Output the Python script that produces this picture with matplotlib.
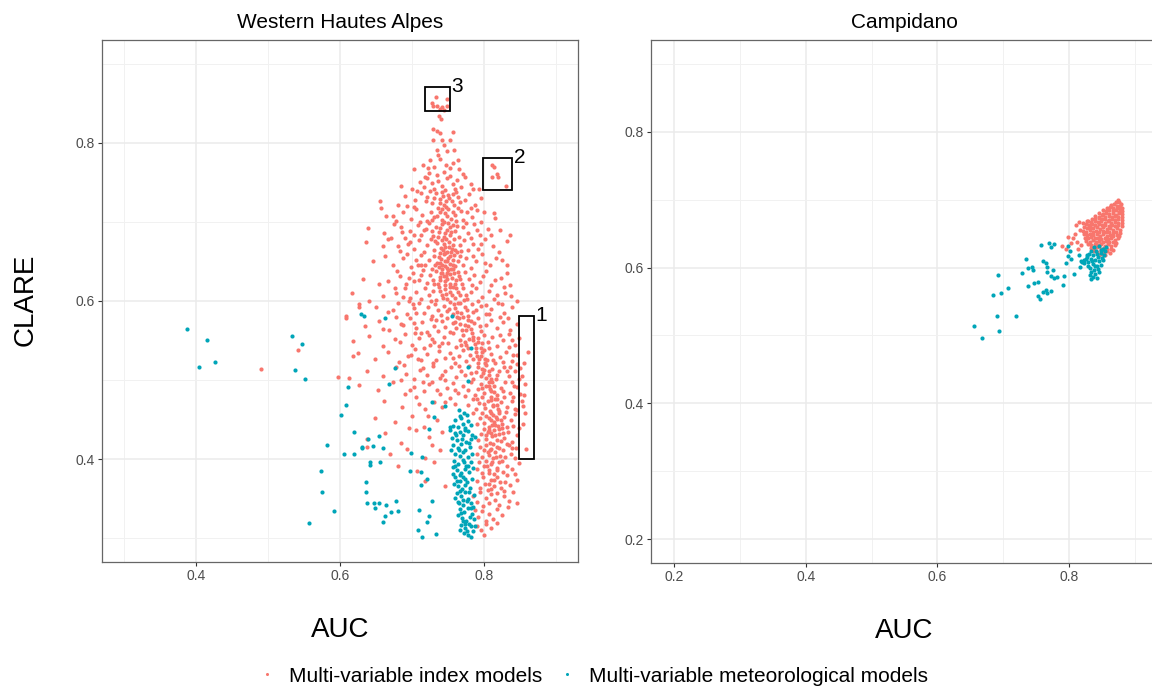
import matplotlib
matplotlib.use("Agg")
import matplotlib.pyplot as plt
from matplotlib.lines import Line2D
from matplotlib.patches import Rectangle
from matplotlib.ticker import MultipleLocator

plt.rcParams["font.family"] = ["Liberation Sans", "DejaVu Sans"]

RED = "#F8766D"
TEAL = "#00A5B8"
LABELS = ["Multi-variable index models", "Multi-variable meteorological models"]

# (AUC, CLARE) -- Western Hautes Alpes, index models
idx_west_top = [
    (0.733, 0.858), (0.748, 0.855), (0.727, 0.850), (0.729, 0.846), (0.735, 0.846),
    (0.741, 0.845), (0.748, 0.846), (0.738, 0.843), (0.744, 0.841), (0.737, 0.834),
    (0.740, 0.830), (0.729, 0.817), (0.735, 0.815), (0.739, 0.812), (0.756, 0.814),
    (0.729, 0.803), (0.741, 0.804), (0.753, 0.804), (0.758, 0.791), (0.734, 0.791),
    (0.748, 0.790), (0.744, 0.797), (0.725, 0.778), (0.739, 0.780), (0.763, 0.778),
    (0.753, 0.768), (0.703, 0.767), (0.722, 0.768), (0.765, 0.767), (0.744, 0.763),
    (0.734, 0.759), (0.715, 0.772), (0.757, 0.775), (0.730, 0.770),
    (0.811, 0.772), (0.814, 0.769), (0.818, 0.760), (0.819, 0.757), (0.811, 0.757),
    (0.830, 0.745), (0.793, 0.741),
    (0.685, 0.745), (0.711, 0.751), (0.720, 0.755), (0.728, 0.749), (0.736, 0.752),
    (0.742, 0.746), (0.749, 0.755), (0.756, 0.748), (0.762, 0.753), (0.768, 0.744),
    (0.774, 0.757), (0.700, 0.742), (0.731, 0.741), (0.745, 0.740), (0.760, 0.742),
    (0.716, 0.744), (0.752, 0.758), (0.782, 0.748),
    (0.655, 0.726), (0.690, 0.733), (0.704, 0.728), (0.712, 0.737), (0.721, 0.731),
    (0.727, 0.724), (0.733, 0.736), (0.739, 0.729), (0.744, 0.722), (0.750, 0.734),
    (0.755, 0.727), (0.761, 0.738), (0.766, 0.725), (0.773, 0.728), (0.779, 0.735),
    (0.787, 0.722), (0.742, 0.738), (0.725, 0.739), (0.758, 0.721), (0.680, 0.722),
    (0.795, 0.730),
    (0.657, 0.717), (0.664, 0.707), (0.673, 0.707), (0.688, 0.712), (0.698, 0.704),
    (0.706, 0.716), (0.714, 0.709), (0.720, 0.701), (0.726, 0.713), (0.731, 0.706),
    (0.736, 0.718), (0.741, 0.702), (0.745, 0.711), (0.750, 0.716), (0.754, 0.704),
    (0.759, 0.709), (0.764, 0.718), (0.770, 0.703), (0.776, 0.712), (0.783, 0.706),
    (0.790, 0.715), (0.799, 0.713), (0.813, 0.711), (0.815, 0.705), (0.738, 0.712),
    (0.728, 0.703), (0.747, 0.719), (0.761, 0.701), (0.702, 0.719), (0.678, 0.701),
]

idx_west_mid = [
    (0.639, 0.692), (0.661, 0.686), (0.671, 0.680), (0.685, 0.694), (0.690, 0.680),
    (0.697, 0.689), (0.708, 0.696), (0.713, 0.684), (0.719, 0.691), (0.724, 0.699),
    (0.729, 0.682), (0.733, 0.693), (0.737, 0.687), (0.741, 0.697), (0.744, 0.681),
    (0.748, 0.690), (0.752, 0.684), (0.756, 0.696), (0.760, 0.688), (0.765, 0.681),
    (0.771, 0.693), (0.778, 0.686), (0.786, 0.697), (0.794, 0.683), (0.805, 0.691),
    (0.836, 0.684), (0.727, 0.688), (0.745, 0.686), (0.750, 0.698), (0.702, 0.683),
    (0.675, 0.697),
    (0.636, 0.675), (0.660, 0.669), (0.667, 0.678), (0.683, 0.663), (0.694, 0.672),
    (0.703, 0.666), (0.709, 0.677), (0.716, 0.662), (0.721, 0.671), (0.726, 0.679),
    (0.730, 0.665), (0.734, 0.673), (0.738, 0.661), (0.742, 0.677), (0.745, 0.668),
    (0.748, 0.662), (0.751, 0.674), (0.755, 0.666), (0.758, 0.679), (0.762, 0.662),
    (0.767, 0.671), (0.772, 0.677), (0.777, 0.664), (0.784, 0.672), (0.791, 0.666),
    (0.801, 0.678), (0.812, 0.669), (0.832, 0.676), (0.740, 0.667), (0.732, 0.676),
    (0.757, 0.671), (0.744, 0.672),
    (0.646, 0.650), (0.674, 0.646), (0.688, 0.655), (0.698, 0.643), (0.706, 0.652),
    (0.713, 0.658), (0.718, 0.645), (0.723, 0.652), (0.727, 0.641), (0.731, 0.657),
    (0.734, 0.648), (0.737, 0.643), (0.740, 0.653), (0.742, 0.645), (0.744, 0.659),
    (0.746, 0.650), (0.748, 0.642), (0.750, 0.655), (0.752, 0.647), (0.754, 0.641),
    (0.756, 0.652), (0.758, 0.658), (0.760, 0.644), (0.763, 0.651), (0.766, 0.657),
    (0.770, 0.646), (0.775, 0.654), (0.781, 0.642), (0.789, 0.651), (0.797, 0.659),
    (0.808, 0.645), (0.825, 0.652), (0.739, 0.648), (0.745, 0.644), (0.753, 0.657),
    (0.749, 0.651), (0.741, 0.640), (0.757, 0.646),
    (0.632, 0.628), (0.667, 0.625), (0.683, 0.631), (0.692, 0.622), (0.701, 0.636),
    (0.709, 0.627), (0.715, 0.639), (0.720, 0.623), (0.725, 0.633), (0.729, 0.626),
    (0.733, 0.638), (0.736, 0.621), (0.739, 0.630), (0.742, 0.636), (0.745, 0.625),
    (0.747, 0.632), (0.750, 0.639), (0.752, 0.622), (0.755, 0.629), (0.758, 0.635),
    (0.761, 0.626), (0.765, 0.632), (0.769, 0.622), (0.774, 0.637), (0.779, 0.628),
    (0.786, 0.633), (0.794, 0.624), (0.803, 0.638), (0.815, 0.627), (0.823, 0.629),
    (0.836, 0.620), (0.832, 0.636), (0.744, 0.631), (0.753, 0.634), (0.738, 0.626),
    (0.748, 0.628),
    (0.616, 0.610), (0.660, 0.606), (0.678, 0.610), (0.690, 0.617), (0.697, 0.604),
    (0.705, 0.612), (0.712, 0.603), (0.718, 0.616), (0.724, 0.607), (0.729, 0.613),
    (0.733, 0.601), (0.737, 0.618), (0.741, 0.608), (0.745, 0.615), (0.748, 0.602),
    (0.752, 0.611), (0.756, 0.618), (0.759, 0.604), (0.763, 0.612), (0.767, 0.607),
    (0.771, 0.617), (0.776, 0.602), (0.782, 0.611), (0.789, 0.616), (0.797, 0.605),
    (0.806, 0.613), (0.818, 0.608), (0.829, 0.610), (0.837, 0.606), (0.627, 0.596),
    (0.627, 0.593), (0.743, 0.604), (0.761, 0.616),
    (0.650, 0.592), (0.666, 0.586), (0.681, 0.597), (0.693, 0.583), (0.702, 0.591),
    (0.710, 0.598), (0.716, 0.585), (0.722, 0.593), (0.727, 0.581), (0.732, 0.596),
    (0.736, 0.588), (0.740, 0.582), (0.744, 0.594), (0.748, 0.587), (0.752, 0.599),
    (0.756, 0.583), (0.760, 0.591), (0.764, 0.597), (0.768, 0.585), (0.773, 0.592),
    (0.778, 0.581), (0.783, 0.596), (0.789, 0.588), (0.795, 0.594), (0.802, 0.583),
    (0.810, 0.590), (0.819, 0.597), (0.828, 0.585), (0.838, 0.592), (0.674, 0.588),
    (0.751, 0.590), (0.785, 0.586), (0.608, 0.581),
    (0.608, 0.579), (0.635, 0.568), (0.654, 0.575), (0.668, 0.563), (0.684, 0.571),
    (0.697, 0.578), (0.706, 0.566), (0.714, 0.574), (0.720, 0.561), (0.726, 0.577),
    (0.731, 0.569), (0.736, 0.562), (0.741, 0.575), (0.745, 0.567), (0.749, 0.579),
    (0.753, 0.561), (0.757, 0.572), (0.761, 0.566), (0.765, 0.578), (0.769, 0.563),
    (0.773, 0.570), (0.777, 0.576), (0.781, 0.565), (0.786, 0.572), (0.791, 0.579),
    (0.796, 0.562), (0.802, 0.570), (0.809, 0.576), (0.817, 0.566), (0.826, 0.573),
    (0.836, 0.563), (0.845, 0.571), (0.778, 0.569), (0.760, 0.574),
]

idx_west_low = [
    (0.618, 0.549), (0.640, 0.556), (0.660, 0.543), (0.676, 0.552), (0.690, 0.558),
    (0.700, 0.545), (0.709, 0.553), (0.716, 0.541), (0.723, 0.557), (0.730, 0.548),
    (0.737, 0.543), (0.744, 0.555), (0.750, 0.547), (0.756, 0.559), (0.761, 0.542),
    (0.766, 0.551), (0.771, 0.557), (0.775, 0.544), (0.779, 0.552), (0.783, 0.559),
    (0.787, 0.546), (0.791, 0.553), (0.795, 0.541), (0.800, 0.557), (0.805, 0.548),
    (0.811, 0.555), (0.818, 0.543), (0.826, 0.551), (0.834, 0.558), (0.843, 0.545),
    (0.785, 0.551), (0.797, 0.547), (0.773, 0.548),
    (0.542, 0.538), (0.618, 0.531), (0.625, 0.534), (0.648, 0.527), (0.667, 0.535),
    (0.682, 0.523), (0.694, 0.531), (0.704, 0.539), (0.713, 0.525), (0.721, 0.533),
    (0.729, 0.521), (0.737, 0.537), (0.745, 0.528), (0.752, 0.534), (0.759, 0.522),
    (0.765, 0.530), (0.770, 0.538), (0.775, 0.524), (0.780, 0.532), (0.784, 0.527),
    (0.788, 0.536), (0.792, 0.522), (0.796, 0.530), (0.800, 0.538), (0.804, 0.525),
    (0.809, 0.533), (0.815, 0.521), (0.822, 0.529), (0.830, 0.536), (0.839, 0.524),
    (0.790, 0.531), (0.801, 0.527),
    (0.490, 0.514), (0.597, 0.504), (0.613, 0.503), (0.638, 0.512), (0.660, 0.505),
    (0.678, 0.516), (0.692, 0.508), (0.702, 0.501), (0.711, 0.513), (0.720, 0.506),
    (0.729, 0.518), (0.738, 0.503), (0.746, 0.511), (0.754, 0.517), (0.761, 0.504),
    (0.768, 0.512), (0.774, 0.506), (0.779, 0.518), (0.784, 0.502), (0.788, 0.510),
    (0.792, 0.516), (0.796, 0.505), (0.800, 0.513), (0.803, 0.519), (0.807, 0.507),
    (0.811, 0.514), (0.816, 0.502), (0.821, 0.511), (0.827, 0.517), (0.834, 0.505),
    (0.842, 0.512), (0.798, 0.509), (0.809, 0.501),
    (0.627, 0.494), (0.652, 0.488), (0.674, 0.497), (0.690, 0.483), (0.703, 0.491),
    (0.716, 0.486), (0.728, 0.497), (0.739, 0.482), (0.748, 0.490), (0.757, 0.496),
    (0.764, 0.484), (0.771, 0.492), (0.777, 0.487), (0.782, 0.498), (0.787, 0.481),
    (0.791, 0.489), (0.795, 0.495), (0.799, 0.484), (0.803, 0.492), (0.806, 0.498),
    (0.810, 0.486), (0.814, 0.493), (0.818, 0.481), (0.823, 0.490), (0.829, 0.497),
    (0.836, 0.484), (0.845, 0.491), (0.808, 0.489), (0.797, 0.490),
    (0.661, 0.474), (0.686, 0.466), (0.705, 0.478), (0.718, 0.463), (0.731, 0.472),
    (0.742, 0.466), (0.752, 0.477), (0.778, 0.468), (0.784, 0.476), (0.789, 0.463),
    (0.793, 0.471), (0.797, 0.478), (0.801, 0.465), (0.805, 0.473), (0.808, 0.461),
    (0.812, 0.469), (0.815, 0.476), (0.819, 0.464), (0.823, 0.472), (0.827, 0.479),
    (0.832, 0.466), (0.838, 0.474), (0.846, 0.462), (0.810, 0.475), (0.817, 0.468),
    (0.800, 0.470),
    (0.648, 0.452), (0.676, 0.447), (0.700, 0.455), (0.716, 0.441), (0.734, 0.450),
    (0.790, 0.444), (0.794, 0.452), (0.797, 0.458), (0.800, 0.446), (0.803, 0.455),
    (0.806, 0.441), (0.809, 0.449), (0.812, 0.456), (0.815, 0.443), (0.818, 0.451),
    (0.821, 0.458), (0.824, 0.445), (0.828, 0.453), (0.832, 0.441), (0.837, 0.449),
    (0.843, 0.457), (0.807, 0.452), (0.814, 0.447), (0.819, 0.442),
    (0.637, 0.426), (0.663, 0.433), (0.684, 0.421), (0.705, 0.437), (0.724, 0.428),
    (0.741, 0.435), (0.792, 0.424), (0.795, 0.432), (0.799, 0.438), (0.802, 0.426),
    (0.805, 0.434), (0.808, 0.421), (0.811, 0.429), (0.814, 0.437), (0.817, 0.424),
    (0.820, 0.432), (0.824, 0.439), (0.828, 0.427), (0.833, 0.434), (0.839, 0.422),
    (0.846, 0.430), (0.810, 0.433), (0.803, 0.430),
    (0.637, 0.416), (0.670, 0.406), (0.693, 0.413), (0.718, 0.402), (0.738, 0.411),
    (0.790, 0.407), (0.794, 0.415), (0.797, 0.403), (0.800, 0.411), (0.803, 0.418),
    (0.806, 0.405), (0.809, 0.413), (0.812, 0.401), (0.815, 0.409), (0.818, 0.416),
    (0.822, 0.404), (0.826, 0.412), (0.831, 0.419), (0.837, 0.406), (0.844, 0.414),
    (0.805, 0.409),
    (0.680, 0.392), (0.707, 0.385), (0.731, 0.396), (0.790, 0.388), (0.793, 0.396),
    (0.797, 0.383), (0.800, 0.391), (0.803, 0.398), (0.806, 0.386), (0.809, 0.394),
    (0.813, 0.381), (0.817, 0.389), (0.821, 0.396), (0.826, 0.384), (0.832, 0.392),
    (0.839, 0.387), (0.848, 0.395), (0.804, 0.392),
    (0.718, 0.373), (0.745, 0.366), (0.790, 0.372), (0.794, 0.364), (0.798, 0.377),
    (0.801, 0.369), (0.805, 0.361), (0.809, 0.374), (0.813, 0.366), (0.818, 0.378),
    (0.823, 0.363), (0.829, 0.371), (0.836, 0.367), (0.845, 0.374), (0.807, 0.368),
    (0.785, 0.354), (0.790, 0.346), (0.794, 0.358), (0.798, 0.341), (0.802, 0.351),
    (0.806, 0.344), (0.810, 0.356), (0.815, 0.348), (0.821, 0.342), (0.827, 0.353),
    (0.834, 0.347), (0.845, 0.345),
    (0.787, 0.336), (0.792, 0.327), (0.797, 0.334), (0.802, 0.322), (0.807, 0.331),
    (0.812, 0.325), (0.818, 0.337), (0.825, 0.329),
    (0.790, 0.316), (0.796, 0.310), (0.803, 0.318), (0.810, 0.313), (0.817, 0.319),
    (0.799, 0.304),
]

# denser streaks of the cloud (upper core near 0.75, lower core near 0.81)
idx_west_core = [
    (0.743, 0.733), (0.751, 0.730), (0.738, 0.724), (0.747, 0.726), (0.756, 0.735),
    (0.741, 0.716), (0.749, 0.708), (0.757, 0.713), (0.735, 0.708), (0.744, 0.700),
    (0.753, 0.694), (0.739, 0.692), (0.747, 0.679), (0.736, 0.681), (0.754, 0.687),
    (0.743, 0.664), (0.751, 0.668), (0.759, 0.665), (0.737, 0.656), (0.746, 0.661),
    (0.754, 0.662), (0.748, 0.636), (0.740, 0.635), (0.756, 0.640), (0.763, 0.637),
    (0.745, 0.620), (0.753, 0.618), (0.760, 0.622), (0.738, 0.613), (0.747, 0.609),
    (0.755, 0.607), (0.766, 0.598), (0.758, 0.596), (0.772, 0.601), (0.762, 0.586),
    (0.770, 0.580), (0.776, 0.588), (0.766, 0.571), (0.775, 0.563), (0.782, 0.575),
    (0.784, 0.555), (0.792, 0.548), (0.788, 0.541), (0.797, 0.536), (0.793, 0.527),
    (0.801, 0.521), (0.797, 0.514), (0.806, 0.511), (0.802, 0.503), (0.811, 0.497),
    (0.806, 0.493), (0.814, 0.485), (0.809, 0.479), (0.818, 0.476), (0.812, 0.467),
    (0.820, 0.461), (0.809, 0.458), (0.816, 0.453), (0.823, 0.449), (0.811, 0.443),
    (0.820, 0.438), (0.807, 0.437), (0.815, 0.431), (0.823, 0.423), (0.812, 0.419),
    (0.820, 0.414), (0.808, 0.411), (0.816, 0.403), (0.824, 0.398), (0.811, 0.396),
    (0.818, 0.386), (0.807, 0.383), (0.814, 0.374), (0.822, 0.371), (0.810, 0.362),
    (0.817, 0.357),
    (0.834, 0.542), (0.840, 0.532), (0.836, 0.517), (0.846, 0.520), (0.838, 0.497),
    (0.848, 0.502), (0.840, 0.478), (0.850, 0.483), (0.842, 0.463), (0.848, 0.440),
    (0.838, 0.414), (0.842, 0.402), (0.832, 0.380), (0.840, 0.358),
    (0.702, 0.625), (0.712, 0.645), (0.695, 0.600), (0.706, 0.585), (0.688, 0.570),
    (0.712, 0.560), (0.698, 0.532), (0.715, 0.515), (0.724, 0.495), (0.735, 0.488),
    (0.745, 0.472), (0.710, 0.470), (0.722, 0.455), (0.695, 0.440), (0.728, 0.418),
    (0.760, 0.470), (0.746, 0.500), (0.725, 0.545),
]

# remaining body of the cloud
idx_west_fill = [
    (0.724, 0.762), (0.747, 0.772), (0.736, 0.785), (0.718, 0.757), (0.770, 0.761),
    (0.707, 0.739), (0.719, 0.726), (0.731, 0.730), (0.763, 0.731), (0.784, 0.741),
    (0.693, 0.720), (0.768, 0.714), (0.781, 0.718), (0.796, 0.700), (0.711, 0.700),
    (0.686, 0.687), (0.716, 0.690), (0.762, 0.695), (0.775, 0.699), (0.790, 0.690),
    (0.810, 0.683), (0.822, 0.690), (0.697, 0.675), (0.781, 0.680), (0.796, 0.672),
    (0.820, 0.662), (0.680, 0.670), (0.693, 0.660), (0.708, 0.645), (0.732, 0.646),
    (0.768, 0.663), (0.785, 0.657), (0.801, 0.648), (0.816, 0.655), (0.831, 0.646),
    (0.663, 0.657), (0.679, 0.638), (0.696, 0.629), (0.712, 0.633), (0.731, 0.621),
    (0.767, 0.628), (0.783, 0.620), (0.798, 0.631), (0.810, 0.620), (0.828, 0.618),
    (0.676, 0.617), (0.654, 0.622), (0.687, 0.605), (0.701, 0.596), (0.726, 0.600),
    (0.775, 0.608), (0.792, 0.600), (0.803, 0.595), (0.814, 0.602), (0.825, 0.596),
    (0.845, 0.600), (0.640, 0.600), (0.678, 0.580), (0.703, 0.572), (0.733, 0.576),
    (0.762, 0.580), (0.794, 0.569), (0.806, 0.583), (0.822, 0.580), (0.833, 0.578),
    (0.660, 0.565), (0.683, 0.548), (0.704, 0.559), (0.727, 0.552), (0.741, 0.547),
    (0.768, 0.545), (0.807, 0.541), (0.822, 0.557), (0.838, 0.551), (0.848, 0.553),
    (0.689, 0.519), (0.708, 0.527), (0.733, 0.526), (0.756, 0.528), (0.777, 0.540),
    (0.812, 0.526), (0.826, 0.523), (0.845, 0.532), (0.684, 0.500), (0.715, 0.498),
    (0.742, 0.507), (0.765, 0.518), (0.781, 0.509), (0.818, 0.507), (0.831, 0.511),
    (0.849, 0.515), (0.697, 0.487), (0.760, 0.487), (0.774, 0.480), (0.790, 0.476),
    (0.826, 0.486), (0.841, 0.493), (0.852, 0.473), (0.785, 0.458), (0.830, 0.460),
    (0.840, 0.442), (0.826, 0.433), (0.835, 0.418), (0.829, 0.403), (0.843, 0.381),
    (0.827, 0.360), (0.833, 0.339),
]

# the few points inside box 1
idx_west_box1 = [
    (0.861, 0.536), (0.855, 0.522), (0.853, 0.505), (0.857, 0.495), (0.855, 0.481),
    (0.854, 0.467), (0.857, 0.459), (0.854, 0.444), (0.858, 0.413),
]

# Western Hautes Alpes, meteorological models
met_west_core = [
    (0.765, 0.462), (0.772, 0.459), (0.768, 0.452), (0.776, 0.456), (0.760, 0.449),
    (0.770, 0.445), (0.778, 0.448), (0.756, 0.442), (0.764, 0.441), (0.774, 0.440),
    (0.781, 0.443),
    (0.752, 0.437), (0.759, 0.433), (0.766, 0.435), (0.771, 0.430), (0.777, 0.436),
    (0.783, 0.431), (0.755, 0.427), (0.762, 0.424), (0.769, 0.426), (0.775, 0.422),
    (0.781, 0.425), (0.787, 0.428),
    (0.757, 0.418), (0.763, 0.414), (0.768, 0.419), (0.774, 0.412), (0.780, 0.416),
    (0.760, 0.407), (0.766, 0.404), (0.771, 0.409), (0.777, 0.403), (0.783, 0.407),
    (0.754, 0.411),
    (0.758, 0.398), (0.764, 0.394), (0.770, 0.399), (0.775, 0.392), (0.781, 0.396),
    (0.762, 0.386), (0.768, 0.383), (0.773, 0.388), (0.779, 0.384), (0.756, 0.390),
    (0.785, 0.389),
    (0.760, 0.377), (0.766, 0.373), (0.771, 0.378), (0.776, 0.371), (0.763, 0.366),
    (0.769, 0.362), (0.774, 0.367), (0.780, 0.364), (0.758, 0.369), (0.783, 0.375),
    (0.762, 0.357), (0.768, 0.353), (0.773, 0.358), (0.778, 0.350), (0.765, 0.345),
    (0.771, 0.342), (0.776, 0.347), (0.782, 0.344), (0.759, 0.351), (0.786, 0.355),
    (0.766, 0.337), (0.772, 0.333), (0.777, 0.338), (0.783, 0.331), (0.769, 0.326),
    (0.775, 0.322), (0.780, 0.327), (0.786, 0.324), (0.763, 0.330),
    (0.768, 0.317), (0.774, 0.313), (0.779, 0.318), (0.772, 0.307), (0.778, 0.304),
    (0.784, 0.309), (0.766, 0.311), (0.781, 0.301),
    (0.767, 0.455), (0.773, 0.437), (0.761, 0.430), (0.779, 0.420), (0.765, 0.411),
    (0.772, 0.396), (0.760, 0.392), (0.778, 0.391), (0.767, 0.380), (0.774, 0.375),
    (0.762, 0.372), (0.779, 0.359), (0.766, 0.360), (0.771, 0.348), (0.781, 0.338),
    (0.768, 0.332), (0.774, 0.318), (0.782, 0.315), (0.770, 0.322), (0.787, 0.316),
    (0.776, 0.309), (0.785, 0.339), (0.757, 0.381), (0.763, 0.346),
]

met_west_scatter = [
    (0.388, 0.564), (0.415, 0.551), (0.404, 0.516), (0.426, 0.523), (0.534, 0.556),
    (0.548, 0.546), (0.538, 0.513), (0.551, 0.501), (0.629, 0.584), (0.633, 0.581),
    (0.611, 0.491), (0.608, 0.468), (0.601, 0.456), (0.620, 0.435), (0.639, 0.425),
    (0.630, 0.414), (0.582, 0.418), (0.606, 0.406), (0.620, 0.407), (0.641, 0.393),
    (0.573, 0.385), (0.575, 0.359), (0.636, 0.371), (0.636, 0.359), (0.638, 0.344),
    (0.592, 0.334), (0.557, 0.319), (0.662, 0.578), (0.676, 0.515), (0.668, 0.495),
    (0.782, 0.540), (0.778, 0.499), (0.755, 0.581), (0.777, 0.517), (0.728, 0.472),
    (0.746, 0.467), (0.730, 0.453), (0.752, 0.441), (0.723, 0.438), (0.654, 0.429),
    (0.646, 0.417), (0.631, 0.415), (0.660, 0.414), (0.698, 0.408), (0.714, 0.403),
    (0.642, 0.396), (0.656, 0.397), (0.697, 0.385), (0.712, 0.384), (0.721, 0.375),
    (0.713, 0.367), (0.727, 0.347), (0.647, 0.344), (0.654, 0.344), (0.649, 0.338),
    (0.664, 0.342), (0.678, 0.347), (0.680, 0.334), (0.671, 0.333), (0.662, 0.328),
    (0.659, 0.321), (0.709, 0.336), (0.723, 0.328), (0.720, 0.321), (0.708, 0.310),
    (0.714, 0.302), (0.733, 0.305),
]

# Campidano, index models
idx_camp_blob = [
    (0.875, 0.700), (0.871, 0.697), (0.876, 0.696), (0.879, 0.694),
    (0.864, 0.692), (0.868, 0.693), (0.873, 0.691), (0.878, 0.690),
    (0.857, 0.688), (0.862, 0.689), (0.867, 0.687), (0.872, 0.688), (0.877, 0.686),
    (0.881, 0.687), (0.851, 0.684), (0.856, 0.683), (0.861, 0.685), (0.866, 0.683),
    (0.871, 0.684), (0.876, 0.682), (0.880, 0.683), (0.846, 0.680), (0.851, 0.679),
    (0.856, 0.681), (0.861, 0.679), (0.866, 0.680), (0.871, 0.678), (0.876, 0.680),
    (0.881, 0.679), (0.840, 0.676), (0.845, 0.675), (0.850, 0.677), (0.855, 0.675),
    (0.860, 0.676), (0.865, 0.674), (0.870, 0.676), (0.875, 0.674), (0.880, 0.675),
    (0.835, 0.672), (0.840, 0.671), (0.845, 0.673), (0.850, 0.671), (0.855, 0.672),
    (0.860, 0.670), (0.865, 0.672), (0.870, 0.670), (0.875, 0.671), (0.881, 0.670),
    (0.829, 0.668), (0.834, 0.667), (0.839, 0.669), (0.844, 0.667), (0.849, 0.668),
    (0.854, 0.666), (0.859, 0.668), (0.864, 0.666), (0.869, 0.667), (0.874, 0.665),
    (0.880, 0.666), (0.825, 0.664), (0.830, 0.663), (0.835, 0.664), (0.840, 0.662),
    (0.845, 0.664), (0.850, 0.662), (0.855, 0.663), (0.860, 0.661), (0.865, 0.663),
    (0.870, 0.661), (0.875, 0.662), (0.880, 0.661), (0.822, 0.659), (0.827, 0.658),
    (0.832, 0.660), (0.837, 0.658), (0.842, 0.659), (0.847, 0.657), (0.852, 0.659),
    (0.857, 0.657), (0.862, 0.658), (0.867, 0.656), (0.872, 0.658), (0.877, 0.656),
    (0.821, 0.654), (0.826, 0.653), (0.831, 0.655), (0.836, 0.653), (0.841, 0.654),
    (0.846, 0.652), (0.851, 0.654), (0.856, 0.652), (0.861, 0.653), (0.866, 0.651),
    (0.871, 0.653), (0.877, 0.651), (0.822, 0.649), (0.827, 0.648), (0.832, 0.650),
    (0.837, 0.648), (0.842, 0.649), (0.847, 0.647), (0.852, 0.649), (0.857, 0.647),
    (0.862, 0.648), (0.867, 0.646), (0.872, 0.648), (0.876, 0.646), (0.824, 0.644),
    (0.829, 0.643), (0.834, 0.645), (0.839, 0.643), (0.844, 0.644), (0.849, 0.642),
    (0.854, 0.644), (0.859, 0.642), (0.864, 0.643), (0.869, 0.641), (0.874, 0.643),
    (0.826, 0.639), (0.831, 0.638), (0.836, 0.640), (0.841, 0.638), (0.846, 0.639),
    (0.851, 0.637), (0.856, 0.639), (0.861, 0.637), (0.866, 0.638), (0.871, 0.636),
    (0.829, 0.634), (0.834, 0.633), (0.839, 0.635), (0.844, 0.633), (0.849, 0.634),
    (0.854, 0.632), (0.859, 0.634), (0.864, 0.632), (0.869, 0.633), (0.833, 0.629),
    (0.838, 0.628), (0.843, 0.630), (0.848, 0.628), (0.853, 0.629), (0.858, 0.627),
    (0.863, 0.628), (0.867, 0.626), (0.838, 0.624), (0.843, 0.623), (0.848, 0.625),
    (0.853, 0.623), (0.858, 0.624), (0.862, 0.622), (0.845, 0.619), (0.850, 0.620),
    (0.855, 0.618),
]

idx_camp_scatter = [
    (0.789, 0.632), (0.796, 0.627), (0.799, 0.645), (0.806, 0.644), (0.812, 0.638),
    (0.809, 0.649), (0.815, 0.667), (0.821, 0.666), (0.827, 0.668), (0.811, 0.662),
    (0.816, 0.656), (0.803, 0.636), (0.818, 0.633), (0.814, 0.628),
]

# Campidano, meteorological models
met_camp = [
    (0.656, 0.514), (0.668, 0.496), (0.690, 0.529), (0.694, 0.506), (0.719, 0.529),
    (0.685, 0.560), (0.697, 0.562), (0.707, 0.570), (0.692, 0.589), (0.734, 0.613),
    (0.728, 0.592), (0.738, 0.599), (0.744, 0.601), (0.745, 0.596), (0.738, 0.573),
    (0.746, 0.577), (0.752, 0.578), (0.753, 0.558), (0.756, 0.553), (0.760, 0.564),
    (0.767, 0.563), (0.772, 0.565), (0.765, 0.567), (0.758, 0.633), (0.769, 0.636),
    (0.777, 0.634), (0.772, 0.630), (0.761, 0.609), (0.767, 0.601), (0.767, 0.593),
    (0.772, 0.588), (0.777, 0.584), (0.781, 0.586), (0.765, 0.606), (0.775, 0.596),
    (0.792, 0.588), (0.791, 0.574), (0.796, 0.607), (0.803, 0.612), (0.799, 0.617),
    (0.801, 0.625), (0.798, 0.631), (0.807, 0.590), (0.816, 0.601), (0.823, 0.611),
    (0.820, 0.608), (0.815, 0.618), (0.827, 0.619),
    (0.838, 0.630), (0.845, 0.631), (0.851, 0.628), (0.855, 0.625), (0.834, 0.625),
    (0.841, 0.624), (0.848, 0.622), (0.853, 0.619), (0.830, 0.620), (0.837, 0.618),
    (0.844, 0.616), (0.850, 0.614), (0.827, 0.615), (0.833, 0.612), (0.840, 0.611),
    (0.846, 0.609), (0.852, 0.611), (0.829, 0.608), (0.836, 0.605), (0.842, 0.603),
    (0.848, 0.604), (0.832, 0.600), (0.838, 0.597), (0.844, 0.598), (0.834, 0.594),
    (0.840, 0.591), (0.846, 0.593), (0.831, 0.589), (0.837, 0.586), (0.842, 0.585),
    (0.833, 0.583), (0.825, 0.612), (0.822, 0.606), (0.828, 0.603), (0.818, 0.610),
    (0.856, 0.630), (0.849, 0.626), (0.843, 0.620), (0.835, 0.609), (0.839, 0.602),
]

# highlighted areas in the Western Hautes Alpes panel: label, auc range, clare range
boxes = [
    ("1", (0.848, 0.869), (0.400, 0.581)),
    ("2", (0.798, 0.839), (0.740, 0.781)),
    ("3", (0.718, 0.752), (0.840, 0.870)),
]

W, H = 1152, 691


def px_box(x0, y0, x1, y1):
    return [x0 / W, 1 - y1 / H, (x1 - x0) / W, (y1 - y0) / H]


def style_axes(ax, lims_x, lims_y):
    ax.set_xlim(lims_x[0] - 0.05 * (lims_x[1] - lims_x[0]), lims_x[1] + 0.05 * (lims_x[1] - lims_x[0]))
    ax.set_ylim(lims_y[0] - 0.05 * (lims_y[1] - lims_y[0]), lims_y[1] + 0.05 * (lims_y[1] - lims_y[0]))
    for a in (ax.xaxis, ax.yaxis):
        a.set_major_locator(MultipleLocator(0.2))
        a.set_minor_locator(MultipleLocator(0.1))
    ax.grid(which="major", color="#EBEBEB", lw=1.1)
    ax.grid(which="minor", color="#F1F1F1", lw=0.7)
    ax.set_axisbelow(True)
    ax.tick_params(which="major", length=2.6, width=0.8, color="#333333",
                   labelsize=10, labelcolor="#4D4D4D", pad=2.5)
    ax.tick_params(which="minor", length=0)
    for s in ax.spines.values():
        s.set_color("#666666")
        s.set_linewidth(0.9)


def scatter(ax, pts, color):
    xs, ys = zip(*pts)
    ax.scatter(xs, ys, s=9, color=color, linewidths=0, zorder=2)


def main():
    fig = plt.figure(figsize=(W / 100, H / 100), dpi=100)
    ax1 = fig.add_axes(px_box(102, 40, 578, 562))
    ax2 = fig.add_axes(px_box(651, 40, 1158, 563))

    # ── Western Hautes Alpes ─────────────────────────────────────────
    style_axes(ax1, (0.3, 0.9), (0.3, 0.9))
    scatter(ax1, idx_west_top + idx_west_mid + idx_west_low + idx_west_core
            + idx_west_fill + idx_west_box1, RED)
    scatter(ax1, met_west_core + met_west_scatter, TEAL)
    for lab, (x0, x1), (y0, y1) in boxes:
        ax1.add_patch(Rectangle((x0, y0), x1 - x0, y1 - y0, fill=False,
                                ec="black", lw=1.3, zorder=3))
        ax1.text(x1 + 0.002, y1 + 0.001, lab, fontsize=15, ha="left",
                 va="center", zorder=4)
    ax1.set_title("Western Hautes Alpes", fontsize=15, pad=9)
    ax1.set_xlabel("AUC", fontsize=20)
    ax1.xaxis.set_label_coords(0.5, -0.13)
    ax1.xaxis.label.set_va("center")
    ax1.set_ylabel("CLARE", fontsize=20)
    ax1.yaxis.set_label_coords(-0.161, 0.502)
    ax1.yaxis.label.set_va("center")

    # ── Campidano ────────────────────────────────────────────────────
    style_axes(ax2, (0.2, 0.9), (0.2, 0.9))
    scatter(ax2, idx_camp_blob + idx_camp_scatter, RED)
    scatter(ax2, met_camp, TEAL)
    ax2.set_title("Campidano", fontsize=15, pad=9)
    ax2.set_xlabel("AUC", fontsize=20)
    ax2.xaxis.set_label_coords(0.5, -0.13)
    ax2.xaxis.label.set_va("center")

    handles = [Line2D([], [], ls="", marker="o", ms=2.2, mec="none", color=c)
               for c in (RED, TEAL)]
    fig.legend(handles, LABELS, loc="center", bbox_to_anchor=(592 / W, 1 - 676 / H),
               ncol=2, frameon=False, fontsize=15, handlelength=1.0,
               handletextpad=0.55, columnspacing=0.7, borderpad=0)

    fig.savefig("out.png", dpi=100)
    plt.close(fig)


if __name__ == "__main__":
    main()
